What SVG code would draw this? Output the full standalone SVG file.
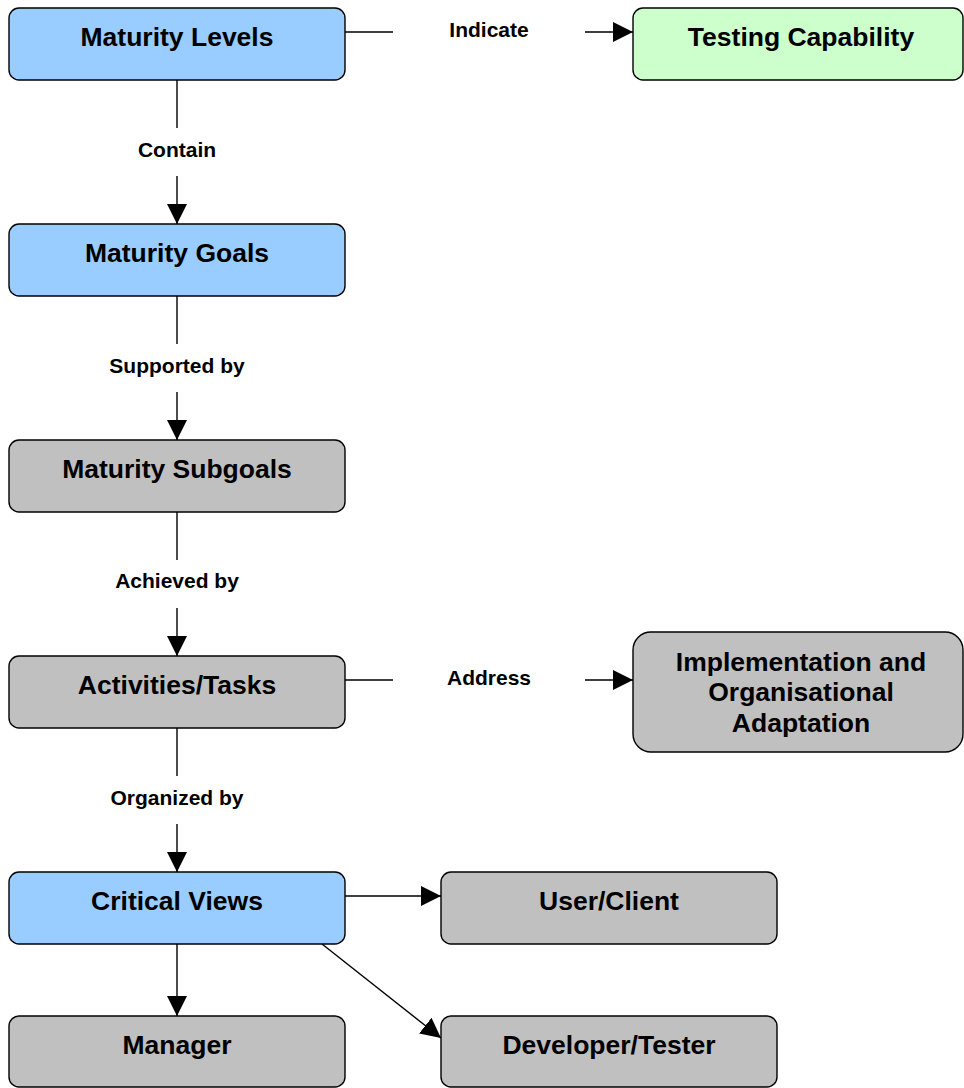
<svg xmlns="http://www.w3.org/2000/svg" width="964" height="1088" viewBox="0 0 964 1088">
  <style>
    .node { stroke: #000; stroke-width: 1.4; }
    .blue { fill: #99ccff; }
    .green { fill: #ccffcc; }
    .gray { fill: #c0c0c0; }
    .ntext { font-family: "Liberation Sans", Arial, sans-serif; font-weight: bold; font-size: 26.5px; text-anchor: middle; fill: #000; }
    .ltext { font-family: "Liberation Sans", Arial, sans-serif; font-weight: bold; font-size: 21px; text-anchor: middle; fill: #000; }
    .edge { stroke: #000; stroke-width: 1.4; fill: none; }
  </style>
  <defs>
    <marker id="arrow" markerUnits="userSpaceOnUse" markerWidth="22" markerHeight="22" refX="20" refY="10" orient="auto">
      <path d="M0,0 L20,10 L0,20 Z" fill="#000"/>
    </marker>
  </defs>
  <rect width="964" height="1088" fill="#fff"/>

  <g id="connectors">
    <!-- Maturity Levels -> Testing Capability -->
    <line class="edge" x1="345" y1="32" x2="393" y2="32"/>
    <line class="edge" x1="585" y1="32" x2="633" y2="32" marker-end="url(#arrow)"/>
    <text class="ltext" x="489" y="37">Indicate</text>
    <!-- Maturity Levels -> Maturity Goals -->
    <line class="edge" x1="177" y1="80" x2="177" y2="128"/>
    <line class="edge" x1="177" y1="176" x2="177" y2="224" marker-end="url(#arrow)"/>
    <text class="ltext" x="177" y="157">Contain</text>
    <!-- Maturity Goals -> Maturity Subgoals -->
    <line class="edge" x1="177" y1="296" x2="177" y2="344"/>
    <line class="edge" x1="177" y1="392" x2="177" y2="440" marker-end="url(#arrow)"/>
    <text class="ltext" x="177" y="373">Supported by</text>
    <!-- Maturity Subgoals -> Activities/Tasks -->
    <line class="edge" x1="177" y1="512" x2="177" y2="560"/>
    <line class="edge" x1="177" y1="608" x2="177" y2="656" marker-end="url(#arrow)"/>
    <text class="ltext" x="177" y="588">Achieved by</text>
    <!-- Activities/Tasks -> Implementation -->
    <line class="edge" x1="345" y1="680" x2="393" y2="680"/>
    <line class="edge" x1="585" y1="680" x2="633" y2="680" marker-end="url(#arrow)"/>
    <text class="ltext" x="489" y="685">Address</text>
    <!-- Activities/Tasks -> Critical Views -->
    <line class="edge" x1="177" y1="728" x2="177" y2="776"/>
    <line class="edge" x1="177" y1="824" x2="177" y2="872" marker-end="url(#arrow)"/>
    <text class="ltext" x="177" y="805">Organized by</text>
    <!-- Critical Views -> views -->
    <line class="edge" x1="345" y1="896" x2="441" y2="896" marker-end="url(#arrow)"/>
    <line class="edge" x1="177" y1="944" x2="177" y2="1016" marker-end="url(#arrow)"/>
    <line class="edge" x1="322" y1="944" x2="441" y2="1038" marker-end="url(#arrow)"/>
  </g>

  <g id="maturity-levels">
    <rect class="node blue" x="9" y="8" width="336" height="72" rx="10"/>
    <text class="ntext" x="177" y="46">Maturity Levels</text>
  </g>
  <g id="testing-capability">
    <rect class="node green" x="633" y="8" width="330" height="72" rx="10"/>
    <text class="ntext" x="801" y="46">Testing Capability</text>
  </g>
  <g id="maturity-goals">
    <rect class="node blue" x="9" y="224" width="336" height="72" rx="10"/>
    <text class="ntext" x="177" y="262">Maturity Goals</text>
  </g>
  <g id="maturity-subgoals">
    <rect class="node gray" x="9" y="440" width="336" height="72" rx="10"/>
    <text class="ntext" x="177" y="478">Maturity Subgoals</text>
  </g>
  <g id="activities-tasks">
    <rect class="node gray" x="9" y="656" width="336" height="72" rx="10"/>
    <text class="ntext" x="177" y="694">Activities/Tasks</text>
  </g>
  <g id="implementation">
    <rect class="node gray" x="633" y="632" width="330" height="120" rx="18"/>
    <text class="ntext" x="801" y="671">Implementation and</text>
    <text class="ntext" x="801" y="701">Organisational</text>
    <text class="ntext" x="801" y="732">Adaptation</text>
  </g>
  <g id="critical-views">
    <rect class="node blue" x="9" y="872" width="336" height="72" rx="10"/>
    <text class="ntext" x="177" y="910">Critical Views</text>
  </g>
  <g id="user-client">
    <rect class="node gray" x="441" y="872" width="336" height="72" rx="10"/>
    <text class="ntext" x="609" y="910">User/Client</text>
  </g>
  <g id="manager">
    <rect class="node gray" x="9" y="1016" width="336" height="71" rx="10"/>
    <text class="ntext" x="177" y="1054">Manager</text>
  </g>
  <g id="developer-tester">
    <rect class="node gray" x="441" y="1016" width="336" height="71" rx="10"/>
    <text class="ntext" x="609" y="1054">Developer/Tester</text>
  </g>
</svg>
